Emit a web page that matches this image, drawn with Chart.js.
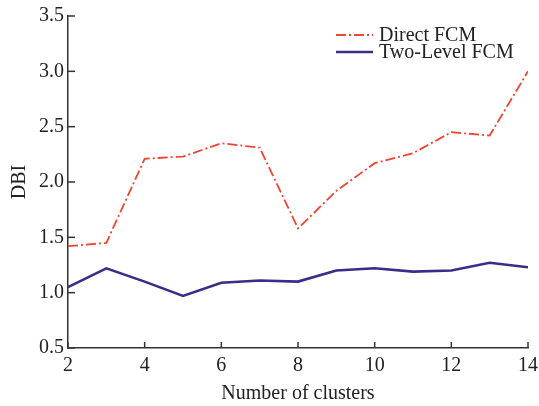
<!DOCTYPE html>
<html>
<head>
<meta charset="utf-8">
<script src="https://cdn.jsdelivr.net/npm/chart.js@4"></script>
<style>
  html, body { margin: 0; padding: 0; background: #fff; }
  #wrap { width: 539px; height: 406px; }
</style>
</head>
<body>
<div id="wrap"><canvas id="chart" width="539" height="406"></canvas></div>
<script>
// number of clusters
const clusters = [2, 3, 4, 5, 6, 7, 8, 9, 10, 11, 12, 13, 14];
// DBI values
const directFCM = [1.42, 1.45, 2.21, 2.23, 2.35, 2.31, 1.58, 1.92, 2.17, 2.26, 2.45, 2.42, 3.0];
const twoLevelFCM = [1.05, 1.22, 1.10, 0.97, 1.09, 1.11, 1.10, 1.20, 1.22, 1.19, 1.20, 1.27, 1.23];
const seriesNames = ["Direct FCM", "Two-Level FCM"];

const serif = "'Liberation Serif', 'DejaVu Serif', serif";
const axisColor = "#333";
const fontSize = 20;

// tick marks drawn on the inside of the axes, and the legend in the top right
const innerTicks = {
  id: "innerTicks",
  afterDraw(chart) {
    const ctx = chart.ctx;
    const x = chart.scales.x, y = chart.scales.y;
    const area = chart.chartArea;
    ctx.save();
    ctx.strokeStyle = axisColor;
    ctx.lineWidth = 1.5;
    x.ticks.forEach(t => {
      const px = x.getPixelForValue(t.value);
      ctx.beginPath(); ctx.moveTo(px, area.bottom); ctx.lineTo(px, area.bottom - 6); ctx.stroke();
    });
    y.ticks.forEach(t => {
      const py = y.getPixelForValue(t.value);
      ctx.beginPath(); ctx.moveTo(area.left, py); ctx.lineTo(area.left + 7, py); ctx.stroke();
    });

    // legend
    const lx = 336, ly = 35, gap = 17;
    chart.data.datasets.forEach((ds, i) => {
      const yy = ly + i * gap;
      ctx.beginPath();
      ctx.strokeStyle = ds.borderColor;
      ctx.lineWidth = ds.borderWidth;
      ctx.setLineDash(ds.borderDash || []);
      ctx.moveTo(lx, yy); ctx.lineTo(lx + 37, yy); ctx.stroke();
      ctx.setLineDash([]);
      ctx.fillStyle = "#222";
      ctx.font = fontSize + "px " + serif;
      ctx.textBaseline = "middle";
      ctx.fillText(ds.label, lx + 43, yy + 1);
    });
    ctx.restore();
  }
};

new Chart(document.getElementById("chart"), {
  type: "line",
  data: {
    labels: clusters,
    datasets: [
      {
        label: seriesNames[0],
        data: clusters.map((c, i) => ({ x: c, y: directFCM[i] })),
        borderColor: "#ee4432",
        borderWidth: 1.8,
        borderDash: [10, 3, 2, 3],
        pointRadius: 0,
        tension: 0
      },
      {
        label: seriesNames[1],
        data: clusters.map((c, i) => ({ x: c, y: twoLevelFCM[i] })),
        borderColor: "#3a2c88",
        borderWidth: 2.6,
        pointRadius: 0,
        tension: 0
      }
    ]
  },
  options: {
    responsive: false,
    animation: false,
    layout: { padding: { left: 0, right: 11, top: 16, bottom: 0 } },
    plugins: { legend: { display: false }, tooltip: { enabled: false } },
    scales: {
      x: {
        type: "linear",
        min: 2, max: 14,
        afterFit: s => { s.height = 58; s.paddingLeft = 0; s.paddingRight = 0; },
        ticks: { stepSize: 2, color: "#222", font: { family: serif, size: fontSize }, padding: 6, maxRotation: 0 },
        grid: { display: false, drawTicks: false },
        border: { color: axisColor, width: 1.5 },
        title: { display: true, text: "Number of clusters", color: "#222", font: { family: serif, size: fontSize }, padding: { top: 0, bottom: 0 } }
      },
      y: {
        min: 0.5, max: 3.5,
        afterFit: s => { s.width = 68; },
        ticks: { stepSize: 0.5, color: "#222", font: { family: serif, size: fontSize }, padding: 4, callback: v => v.toFixed(1) },
        grid: { display: false, drawTicks: false },
        border: { color: axisColor, width: 1.5 },
        title: { display: true, text: "DBI", color: "#222", font: { family: serif, size: fontSize }, padding: { top: 8, bottom: 0 } }
      }
    }
  },
  plugins: [innerTicks]
});
</script>
</body>
</html>
